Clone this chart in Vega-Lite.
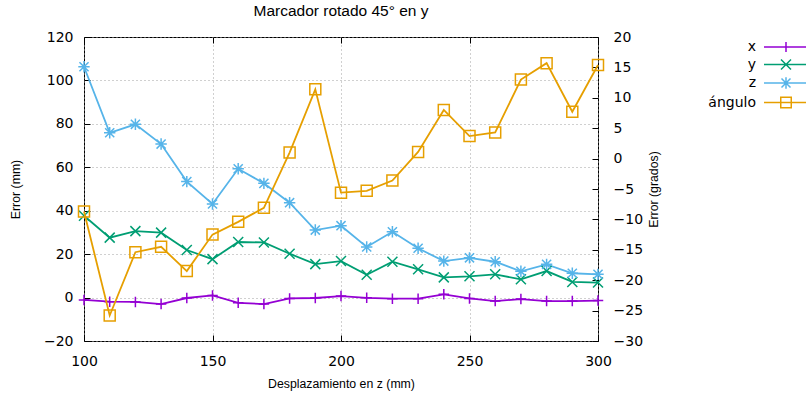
{
  "$schema": "https://vega.github.io/schema/vega-lite/v6.json",
  "width": 514,
  "height": 304,
  "autosize": {"type": "none"},
  "padding": {"left": 84, "top": 37, "right": 208, "bottom": 56},
  "title": {
    "text": "Marcador rotado 45° en y",
    "font": "Liberation Sans",
    "fontSize": 15.5,
    "fontWeight": "normal",
    "color": "#000000",
    "anchor": "middle",
    "offset": 11
  },
  "datasets": {
    "errores": [
      {"d": 100, "serie": "x", "v": -1.1}, {"d": 110, "serie": "x", "v": -1.9}, {"d": 120, "serie": "x", "v": -2.0},
      {"d": 130, "serie": "x", "v": -3.0}, {"d": 140, "serie": "x", "v": -0.2}, {"d": 150, "serie": "x", "v": 1.0},
      {"d": 160, "serie": "x", "v": -2.4}, {"d": 170, "serie": "x", "v": -3.0}, {"d": 180, "serie": "x", "v": -0.4},
      {"d": 190, "serie": "x", "v": -0.2}, {"d": 200, "serie": "x", "v": 0.7}, {"d": 210, "serie": "x", "v": -0.1},
      {"d": 220, "serie": "x", "v": -0.5}, {"d": 230, "serie": "x", "v": -0.5}, {"d": 240, "serie": "x", "v": 1.5},
      {"d": 250, "serie": "x", "v": -0.4}, {"d": 260, "serie": "x", "v": -1.6}, {"d": 270, "serie": "x", "v": -0.7},
      {"d": 280, "serie": "x", "v": -1.6}, {"d": 290, "serie": "x", "v": -1.6}, {"d": 300, "serie": "x", "v": -1.4},
      {"d": 100, "serie": "y", "v": 37.7}, {"d": 110, "serie": "y", "v": 27.6}, {"d": 120, "serie": "y", "v": 30.6},
      {"d": 130, "serie": "y", "v": 29.9}, {"d": 140, "serie": "y", "v": 21.9}, {"d": 150, "serie": "y", "v": 17.7},
      {"d": 160, "serie": "y", "v": 25.6}, {"d": 170, "serie": "y", "v": 25.4}, {"d": 180, "serie": "y", "v": 20.2},
      {"d": 190, "serie": "y", "v": 15.4}, {"d": 200, "serie": "y", "v": 16.8}, {"d": 210, "serie": "y", "v": 10.5},
      {"d": 220, "serie": "y", "v": 16.5}, {"d": 230, "serie": "y", "v": 13.0}, {"d": 240, "serie": "y", "v": 9.3},
      {"d": 250, "serie": "y", "v": 9.8}, {"d": 260, "serie": "y", "v": 10.7}, {"d": 270, "serie": "y", "v": 8.4},
      {"d": 280, "serie": "y", "v": 12.2}, {"d": 290, "serie": "y", "v": 7.2}, {"d": 300, "serie": "y", "v": 6.9},
      {"d": 100, "serie": "z", "v": 106.3}, {"d": 110, "serie": "z", "v": 75.9}, {"d": 120, "serie": "z", "v": 79.8},
      {"d": 130, "serie": "z", "v": 70.7}, {"d": 140, "serie": "z", "v": 53.4}, {"d": 150, "serie": "z", "v": 43.1},
      {"d": 160, "serie": "z", "v": 59.3}, {"d": 170, "serie": "z", "v": 52.6}, {"d": 180, "serie": "z", "v": 43.7},
      {"d": 190, "serie": "z", "v": 31.1}, {"d": 200, "serie": "z", "v": 33.1}, {"d": 210, "serie": "z", "v": 23.3},
      {"d": 220, "serie": "z", "v": 30.3}, {"d": 230, "serie": "z", "v": 22.7}, {"d": 240, "serie": "z", "v": 16.8},
      {"d": 250, "serie": "z", "v": 18.3}, {"d": 260, "serie": "z", "v": 16.5}, {"d": 270, "serie": "z", "v": 12.1},
      {"d": 280, "serie": "z", "v": 15.3}, {"d": 290, "serie": "z", "v": 11.2}, {"d": 300, "serie": "z", "v": 10.7}
    ],
    "angulo": [
      {"d": 100, "serie": "ángulo", "v": -8.7}, {"d": 110, "serie": "ángulo", "v": -25.8}, {"d": 120, "serie": "ángulo", "v": -15.4},
      {"d": 130, "serie": "ángulo", "v": -14.5}, {"d": 140, "serie": "ángulo", "v": -18.5}, {"d": 150, "serie": "ángulo", "v": -12.5},
      {"d": 160, "serie": "ángulo", "v": -10.4}, {"d": 170, "serie": "ángulo", "v": -8.1}, {"d": 180, "serie": "ángulo", "v": 1.0},
      {"d": 190, "serie": "ángulo", "v": 11.4}, {"d": 200, "serie": "ángulo", "v": -5.6}, {"d": 210, "serie": "ángulo", "v": -5.3},
      {"d": 220, "serie": "ángulo", "v": -3.6}, {"d": 230, "serie": "ángulo", "v": 1.1}, {"d": 240, "serie": "ángulo", "v": 8.0},
      {"d": 250, "serie": "ángulo", "v": 3.7}, {"d": 260, "serie": "ángulo", "v": 4.3}, {"d": 270, "serie": "ángulo", "v": 13.0},
      {"d": 280, "serie": "ángulo", "v": 15.7}, {"d": 290, "serie": "ángulo", "v": 7.7}, {"d": 300, "serie": "ángulo", "v": 15.4}
    ]
  },
  "encoding": {
    "color": {
      "field": "serie",
      "type": "nominal",
      "scale": {
        "domain": ["x", "y", "z", "ángulo"],
        "range": ["#9400d3", "#009e73", "#56b4e9", "#e69f00"]
      },
      "legend": {
        "title": null,
        "orient": "none",
        "legendX": 615,
        "legendY": 3,
        "symbolSize": 100,
        "symbolStrokeWidth": 1.5,
        "symbolFillColor": "transparent",
        "symbolOpacity": 1,
        "symbolOffset": 80,
        "labelAlign": "right",
        "labelOffset": -37,
        "labelFont": "DejaVu Sans",
        "labelFontSize": 14,
        "labelColor": "#000000",
        "rowPadding": 1.5
      }
    }
  },
  "layer": [
    {
      "data": {"name": "errores"},
      "encoding": {
        "x": {
          "field": "d",
          "type": "quantitative",
          "scale": {"domain": [100, 300], "nice": false, "zero": false},
          "axis": {
            "title": "Desplazamiento en z (mm)",
            "orient": "bottom",
            "values": [100, 150, 200, 250, 300],
            "grid": true,
            "labelPadding": 19,
            "titlePadding": 9
          }
        },
        "y": {
          "field": "v",
          "type": "quantitative",
          "scale": {"domain": [-20, 120], "nice": false, "zero": false},
          "axis": {
            "title": "Error (mm)",
            "orient": "left",
            "values": [-20, 0, 20, 40, 60, 80, 100, 120],
            "grid": true,
            "labelPadding": 17,
            "titlePadding": 21
          }
        }
      },
      "layer": [
        {"mark": {"type": "line", "strokeWidth": 1.8}},
        {
          "transform": [{"filter": "datum.serie === 'x'"}],
          "mark": {"type": "point", "shape": "M-1,0H1M0,-1V1", "filled": false, "size": 110, "strokeWidth": 1.5, "opacity": 1}
        },
        {
          "transform": [{"filter": "datum.serie === 'y'"}],
          "mark": {"type": "point", "shape": "M-1,-1L1,1M-1,1L1,-1", "filled": false, "size": 100, "strokeWidth": 1.5, "opacity": 1}
        },
        {
          "transform": [{"filter": "datum.serie === 'z'"}],
          "mark": {"type": "point", "shape": "M-1,0H1M0,-1V1M-0.8,-0.8L0.8,0.8M-0.8,0.8L0.8,-0.8", "filled": false, "size": 130, "strokeWidth": 1.5, "opacity": 1}
        },
        {
          "mark": {"type": "point", "filled": false, "size": 0, "opacity": 0},
          "encoding": {
            "shape": {
              "field": "serie",
              "type": "nominal",
              "scale": {
                "domain": ["x", "y", "z", "ángulo"],
                "range": [
                  "M-4.4,0H4.4M0,-1V1",
                  "M-4.4,0H4.4M-1,-1L1,1M-1,1L1,-1",
                  "M-4.4,0H4.4M0,-1.15V1.15M-0.9,-0.9L0.9,0.9M-0.9,0.9L0.9,-0.9",
                  "M-4.4,0H4.4M-1.05,-1.05H1.05V1.05H-1.05Z"
                ]
              },
              "legend": {"title": null}
            }
          }
        }
      ]
    },
    {
      "data": {"name": "angulo"},
      "encoding": {
        "x": {
          "field": "d",
          "type": "quantitative",
          "scale": {"domain": [100, 300], "nice": false, "zero": false},
          "axis": {
            "orient": "top",
            "values": [100, 150, 200, 250, 300],
            "labels": false,
            "grid": false,
            "title": null
          }
        },
        "y": {
          "field": "v",
          "type": "quantitative",
          "scale": {"domain": [-30, 20], "nice": false, "zero": false},
          "axis": {
            "title": "Error (grados)",
            "orient": "right",
            "values": [-30, -25, -20, -15, -10, -5, 0, 5, 10, 15, 20],
            "grid": false,
            "labelPadding": 21,
            "titlePadding": 18,
            "titleAngle": 270
          }
        }
      },
      "layer": [
        {"mark": {"type": "line", "strokeWidth": 1.8}},
        {"mark": {"type": "point", "shape": "M-1,-1H1V1H-1Z", "filled": false, "size": 121, "strokeWidth": 1.5, "opacity": 1}}
      ]
    }
  ],
  "resolve": {"scale": {"y": "independent"}, "axis": {"x": "independent"}},
  "config": {
    "view": {"stroke": "#000000", "strokeWidth": 1},
    "axis": {
      "domain": false,
      "ticks": true,
      "tickSize": -6,
      "tickColor": "#000000",
      "tickWidth": 1,
      "labelFont": "DejaVu Sans",
      "labelFontSize": 14,
      "labelColor": "#000000",
      "labelFlush": false,
      "labelOverlap": false,
      "titleFont": "Liberation Sans",
      "titleFontSize": 12.3,
      "titleFontWeight": "normal",
      "titleColor": "#000000",
      "gridColor": "#a0a0a0",
      "gridDash": [1, 3],
      "gridWidth": 1,
      "gridOpacity": 1
    }
  }
}
